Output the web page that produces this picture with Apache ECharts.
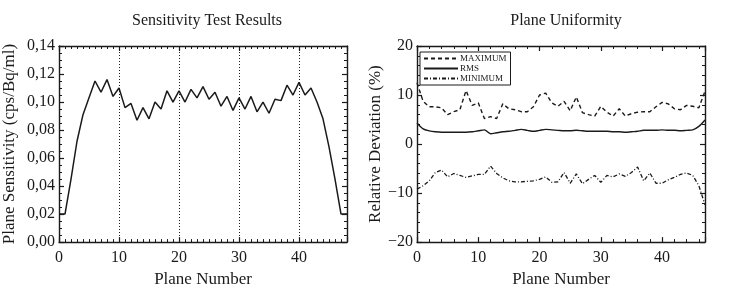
<!DOCTYPE html>
<html>
<head>
<meta charset="utf-8">
<script src="https://cdn.jsdelivr.net/npm/echarts@6/dist/echarts.min.js"></script>
<style>
  html, body { margin: 0; padding: 0; background: #fff; }
  #chart { width: 730px; height: 293px; }
</style>
</head>
<body>
<div id="chart"></div>
<script>
// left panel: sensitivity per plane
const sensPlanes = [0,1,2,3,4,5,6,7,8,9,10,11,12,13,14,15,16,17,18,19,20,21,22,23,24,25,26,27,28,29,30,31,32,33,34,35,36,37,38,39,40,41,42,43,44,45,46,47,48]
const sensitivity = [
  0.020, 0.020, 0.045, 0.072, 0.091, 0.103, 0.115, 0.107, 0.116, 0.104,
  0.110, 0.096, 0.099, 0.087, 0.096, 0.088, 0.100, 0.095, 0.108, 0.100,
  0.108, 0.100, 0.109, 0.103, 0.111, 0.102, 0.107, 0.097, 0.104, 0.094,
  0.103, 0.095, 0.104, 0.093, 0.100, 0.092, 0.102, 0.101, 0.112, 0.105,
  0.114, 0.105, 0.110, 0.100, 0.088, 0.068, 0.045, 0.020, 0.020
]
const sensTicks = ['0,00', '0,02', '0,04', '0,06', '0,08', '0,10', '0,12', '0,14']

// right panel: uniformity per plane
const uniPlanes = [0,1,2,3,4,5,6,7,8,9,10,11,12,13,14,15,16,17,18,19,20,21,22,23,24,25,26,27,28,29,30,31,32,33,34,35,36,37,38,39,40,41,42,43,44,45,46,47]
const maximum = [
  12.5, 8.7, 7.6, 7.6, 7.4, 6.0, 6.6, 7.0, 10.9, 7.9,
  8.4, 5.2, 5.6, 5.2, 8.2, 7.2, 7.0, 6.6, 6.6, 7.6,
  10.0, 10.4, 8.4, 7.7, 8.7, 6.8, 9.6, 6.4, 6.0, 5.7,
  7.7, 6.5, 5.7, 7.2, 5.7, 6.2, 6.5, 6.6, 6.6, 7.6,
  8.5, 8.2, 7.2, 7.0, 7.9, 7.7, 7.4, 10.8
]
const rms = [
  4.3, 3.1, 2.7, 2.5, 2.4, 2.4, 2.4, 2.4, 2.4, 2.5,
  2.7, 2.9, 2.1, 2.3, 2.5, 2.6, 2.8, 3.0, 2.8, 2.6,
  2.8, 3.0, 2.9, 2.8, 2.7, 2.7, 2.8, 2.7, 2.6, 2.6,
  2.6, 2.6, 2.5, 2.5, 2.4, 2.5, 2.6, 2.8, 2.8, 2.8,
  2.9, 2.8, 2.8, 2.7, 2.8, 2.9, 3.6, 4.9
]
const minimum = [
  -9.2, -8.5, -7.5, -5.8, -5.3, -6.7, -6.0, -6.4, -6.8, -6.5,
  -6.2, -6.2, -4.5, -6.0, -6.9, -7.5, -7.7, -7.7, -7.6, -7.5,
  -7.2, -6.7, -7.8, -7.7, -5.8, -8.0, -6.1, -8.1, -7.2, -6.4,
  -7.8, -6.4, -6.7, -6.1, -6.6, -5.8, -4.7, -7.5, -5.9, -8.0,
  -8.0, -7.3, -6.8, -6.2, -5.9, -6.4, -8.5, -12.4
]

const FONT = 'Liberation Serif'
const INK = '#1a1a1a'

const pairs = (xs, ys) => xs.map((x, i) => [x, ys[i]])

// shared axis styling, ticks pointing inward like the original plots
const baseAxis = (extra) => Object.assign({
  axisLine: { show: true, onZero: false, lineStyle: { color: INK, width: 1.4 } },
  axisTick: { show: true, inside: true, length: 5, lineStyle: { color: INK, width: 1.2 } },
  minorTick: { show: true, length: 3, lineStyle: { color: INK } },
  splitLine: { show: false },
  axisLabel: { color: INK, fontFamily: FONT, fontSize: 16, showMaxLabel: false },
  nameTextStyle: { color: INK, fontFamily: FONT, fontSize: 17 },
}, extra)

const mirror = (extra) => baseAxis(Object.assign({
  axisLabel: { show: false },
}, extra))

const chart = echarts.init(document.getElementById('chart'))

chart.setOption({
  backgroundColor: '#fff',
  animation: false,
  title: [
    {
      text: 'Sensitivity Test Results', left: 202, top: 8, textAlign: 'center',
      textStyle: { fontFamily: FONT, fontSize: 16, fontWeight: 'normal', color: INK },
    },
    {
      text: 'Plane Uniformity', left: 561, top: 8, textAlign: 'center',
      textStyle: { fontFamily: FONT, fontSize: 16, fontWeight: 'normal', color: INK },
    },
  ],
  legend: {
    data: ['MAXIMUM', 'RMS', 'MINIMUM'],
    orient: 'vertical',
    left: 420,
    top: 52,
    itemWidth: 34,
    itemHeight: 8,
    itemGap: 1,
    padding: [2, 4, 2, 3],
    borderColor: INK,
    borderWidth: 1,
    itemStyle: { opacity: 0 },
    textStyle: { fontFamily: FONT, fontSize: 9, color: INK, padding: [0, 0, 0, -3] },
  },
  grid: [
    { left: 58, top: 46, width: 289, height: 211 },
    { left: 417, top: 46, width: 288, height: 211 },
  ],
  xAxis: [
    baseAxis({
      gridIndex: 0, type: 'value', min: 0, max: 48, interval: 10,
      minorTick: { show: true, splitNumber: 10, length: 3, lineStyle: { color: INK } },
      splitLine: { show: true, lineStyle: { color: INK, type: [1, 2], width: 1 } },
      name: 'Plane Number', nameLocation: 'middle', nameGap: 24,
    }),
    mirror({
      gridIndex: 0, type: 'value', position: 'top', min: 0, max: 48, interval: 10,
      minorTick: { show: true, splitNumber: 10, length: 3, lineStyle: { color: INK } },
    }),
    baseAxis({
      gridIndex: 1, type: 'value', min: 0, max: 47, interval: 10,
      minorTick: { show: true, splitNumber: 5, length: 3, lineStyle: { color: INK } },
      name: 'Plane Number', nameLocation: 'middle', nameGap: 24,
    }),
    mirror({
      gridIndex: 1, type: 'value', position: 'top', min: 0, max: 47, interval: 10,
      minorTick: { show: true, splitNumber: 5, length: 3, lineStyle: { color: INK } },
    }),
  ],
  yAxis: [
    baseAxis({
      gridIndex: 0, type: 'value', min: 0, max: 0.14, interval: 0.02,
      minorTick: { show: true, splitNumber: 4, length: 3, lineStyle: { color: INK } },
      axisLabel: {
        color: INK, fontFamily: FONT, fontSize: 16, margin: 4,
        formatter: (v) => sensTicks[Math.round(v / 0.02)],
      },
      name: 'Plane Sensitivity (cps/Bq/ml)', nameLocation: 'middle', nameGap: 41,
    }),
    mirror({
      gridIndex: 0, type: 'value', position: 'right', min: 0, max: 0.14, interval: 0.02,
      minorTick: { show: true, splitNumber: 4, length: 3, lineStyle: { color: INK } },
    }),
    baseAxis({
      gridIndex: 1, type: 'value', min: -20, max: 20, interval: 10,
      minorTick: { show: true, splitNumber: 5, length: 3, lineStyle: { color: INK } },
      axisLabel: {
        color: INK, fontFamily: FONT, fontSize: 16, margin: 4,
        formatter: (v) => (v < 0 ? '\u2212' + Math.abs(v) : String(v)),
      },
      name: 'Relative Deviation (%)', nameLocation: 'middle', nameGap: 31,
    }),
    mirror({
      gridIndex: 1, type: 'value', position: 'right', min: -20, max: 20, interval: 10,
      minorTick: { show: true, splitNumber: 5, length: 3, lineStyle: { color: INK } },
    }),
  ],
  series: [
    {
      type: 'line', xAxisIndex: 0, yAxisIndex: 0,
      data: pairs(sensPlanes, sensitivity),
      symbol: 'none',
      lineStyle: { color: INK, width: 1.5 },
    },
    {
      name: 'MAXIMUM', type: 'line', xAxisIndex: 2, yAxisIndex: 2,
      data: pairs(uniPlanes, maximum),
      symbol: 'none',
      itemStyle: { color: INK },
      lineStyle: { color: INK, width: 1.4, type: [4, 3] },
    },
    {
      name: 'RMS', type: 'line', xAxisIndex: 2, yAxisIndex: 2,
      data: pairs(uniPlanes, rms),
      symbol: 'none', smooth: 0.3,
      itemStyle: { color: INK },
      lineStyle: { color: INK, width: 1.4 },
    },
    {
      name: 'MINIMUM', type: 'line', xAxisIndex: 2, yAxisIndex: 2,
      data: pairs(uniPlanes, minimum),
      symbol: 'none',
      itemStyle: { color: INK },
      lineStyle: { color: INK, width: 1.3, type: [4, 2, 1, 2] },
    },
  ],
})
</script>
</body>
</html>
